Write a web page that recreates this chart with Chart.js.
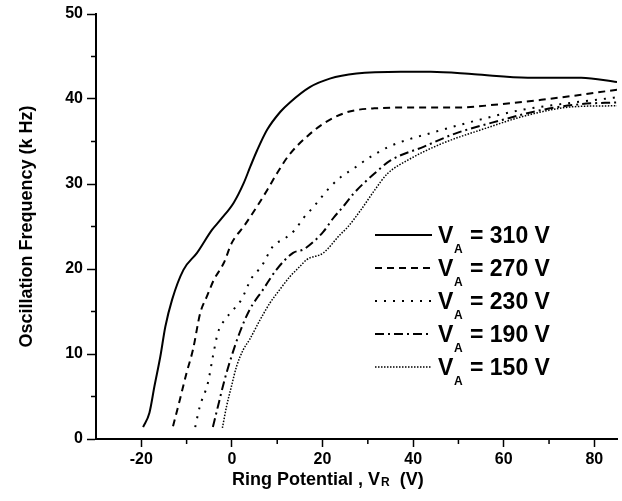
<!DOCTYPE html>
<html>
<head>
<meta charset="utf-8">
<script src="https://cdn.jsdelivr.net/npm/chart.js@4.4.1/dist/chart.umd.min.js"></script>
<style>
  body { margin: 0; background: #fff; }
  #wrap { width: 622px; height: 501px; }
</style>
</head>
<body>
<div id="wrap"><canvas id="myChart" width="622" height="501"></canvas></div>
<script>
// ring potential (V) and frequency (kHz)
const vr310 = [-19.6, -18.2, -17.1, -15.8, -14.7, -13.2, -10.7, -7.7, -4.4, -2.5, 0.4, 2.6, 4.1, 5.6, 7.8, 10.7, 12.8, 17.2, 21.6, 27.5, 37.3, 43.9, 53.5, 65.3, 77.1, 85];
const f310 = [1.4, 3.1, 6.2, 9.7, 13.2, 16.4, 19.9, 21.9, 24.6, 25.8, 27.8, 30.1, 32.1, 34.0, 36.4, 38.5, 39.6, 41.4, 42.4, 43.0, 43.2, 43.2, 42.9, 42.5, 42.5, 42.0];

const vr270 = [-13.0, -11.5, -10.0, -8.6, -7.0, -5.5, -4.0, -1.8, 0.0, 2.6, 5.6, 7.8, 10.0, 12.6, 16.6, 20.2, 24.6, 27.5, 31.4, 38.8, 49.8, 59.4, 68.3, 77.1, 85];
const f270 = [1.5, 4.6, 7.8, 10.5, 14.8, 16.8, 18.7, 20.7, 23.1, 25.0, 27.4, 29.3, 31.3, 33.4, 35.6, 37.1, 38.3, 38.7, 38.9, 39.0, 39.0, 39.4, 39.9, 40.5, 41.1];

const vr230 = [-8.1, -7.1, -5.3, -4.2, -3.1, -1.6, 0.3, 2.1, 4.3, 6.5, 9.1, 11.7, 13.9, 15.8, 18.0, 21.6, 24.0, 26.8, 30.6, 35.1, 44.6, 54.2, 63.8, 72.7, 85];
const f230 = [1.4, 3.8, 6.6, 9.7, 12.5, 14.0, 15.2, 16.4, 18.9, 20.3, 22.7, 23.6, 24.6, 26.0, 27.3, 29.6, 30.8, 31.8, 33.2, 34.5, 36.1, 37.5, 38.7, 39.4, 40.2];

const vr190 = [-4.2, -3.1, -1.6, -0.1, 1.7, 3.9, 6.9, 9.8, 13.5, 15.8, 18.0, 20.2, 22.4, 24.8, 26.9, 31.4, 35.1, 42.4, 49.1, 59.4, 68.3, 77.1, 85];
const f190 = [1.4, 3.8, 7.0, 9.7, 12.5, 15.2, 17.6, 19.9, 21.9, 22.3, 23.2, 24.4, 26.0, 27.5, 28.9, 31.2, 32.8, 34.4, 35.9, 37.5, 38.7, 39.4, 39.6];

const vr150 = [-2.1, -1.2, -0.1, 1.0, 2.5, 3.9, 6.2, 8.4, 10.6, 12.8, 15.0, 16.5, 20.2, 23.8, 25.5, 28.4, 31.4, 34.3, 38.8, 46.1, 55.7, 65.3, 75.6, 85];
const f150 = [1.3, 3.8, 6.2, 8.5, 10.5, 11.7, 14.0, 16.0, 17.6, 19.1, 20.3, 21.1, 21.9, 24.0, 24.9, 26.9, 29.2, 31.2, 32.8, 34.7, 36.5, 38.1, 39.1, 39.2];

const anodeLabels = ['310', '270', '230', '190', '150'];

const toPoints = (xs, ys) => xs.map((x, i) => ({ x: x, y: ys[i] }));

const FONT = "'Liberation Sans', Arial, sans-serif";
Chart.defaults.font.family = FONT;
Chart.defaults.color = '#000';

const series = [
    { pts: toPoints(vr310, f310), dash: [], width: 2 },
    { pts: toPoints(vr270, f270), dash: [7, 5], width: 2 },
    { pts: toPoints(vr230, f230), dash: [2, 7], width: 2 },
    { pts: toPoints(vr190, f190), dash: [9, 4, 2, 4], width: 2 },
    { pts: toPoints(vr150, f150), dash: [1.5, 1.5], width: 1.5 }
];

// minor ticks, x-axis title with subscript, and the in-plot legend
const extras = {
    id: 'extras',
    afterDraw(chart) {
        const c = chart.ctx;
        const xs = chart.scales.x, ys = chart.scales.y;
        c.save();
        c.strokeStyle = '#000';
        c.lineWidth = 1.5;
        c.beginPath();
        for (let v = -10; v < 85; v += 20) {
            const px = xs.getPixelForValue(v);
            c.moveTo(px, ys.bottom);
            c.lineTo(px, ys.bottom + 5);
        }
        for (let v = 5; v < 50; v += 10) {
            const py = ys.getPixelForValue(v);
            c.moveTo(xs.left, py);
            c.lineTo(xs.left - 5, py);
        }
        c.stroke();

        // x title
        c.fillStyle = '#000';
        c.textBaseline = 'alphabetic';
        c.textAlign = 'left';
        c.font = 'bold 18px ' + FONT;
        let tx = 232;
        const ty = 485;
        const a = 'Ring Potential , V';
        c.fillText(a, tx, ty);
        tx += c.measureText(a).width;
        c.font = 'bold 12px ' + FONT;
        c.fillText('R', tx + 1, ty + 1);
        tx += c.measureText('R').width + 1;
        c.font = 'bold 18px ' + FONT;
        c.fillText('  (V)', tx, ty);

        // legend
        chart.data.datasets.forEach((ds, i) => {
            const base = 243 + i * 33;
            c.save();
            c.setLineDash(ds.borderDash || []);
            c.lineWidth = ds.borderWidth;
            c.beginPath();
            c.moveTo(375, base - 8);
            c.lineTo(432, base - 8);
            c.stroke();
            c.restore();
            c.font = 'bold 23px ' + FONT;
            c.fillText('V', 438, base);
            c.font = 'bold 12px ' + FONT;
            c.fillText('A', 454, base + 10);
            c.font = 'bold 23px ' + FONT;
            c.fillText('= ' + anodeLabels[i] + ' V', 470, base);
        });
        c.restore();
    }
};

const ctx = document.getElementById('myChart');

new Chart(ctx, {
    type: 'line',
    data: {
        datasets: series.map((s, i) => ({
            label: 'VA = ' + anodeLabels[i] + ' V',
            data: s.pts,
            borderColor: '#000',
            borderWidth: s.width,
            borderDash: s.dash,
            pointRadius: 0,
            fill: false,
            cubicInterpolationMode: 'monotone'
        }))
    },
    options: {
        responsive: false,
        animation: false,
        layout: { padding: { top: 14, right: 5, left: 0, bottom: 0 } },
        plugins: {
            legend: { display: false },
            tooltip: { enabled: false }
        },
        scales: {
            x: {
                type: 'linear',
                min: -30,
                max: 85,
                afterFit: s => { s.height = 62; },
                border: { display: true, color: '#000', width: 2 },
                grid: {
                    drawOnChartArea: false,
                    tickLength: 8,
                    tickWidth: 1.5,
                    tickColor: c => (c.tick && c.tick.value % 20 === 0 ? '#000' : 'rgba(0,0,0,0)')
                },
                ticks: {
                    stepSize: 20,
                    includeBounds: false,
                    autoSkip: false,
                    maxRotation: 0,
                    padding: 3,
                    color: '#000',
                    font: { size: 16, weight: 'bold' }
                }
            },
            y: {
                min: 0,
                max: 50,
                afterFit: s => { s.width = 96; },
                border: { display: true, color: '#000', width: 2 },
                grid: {
                    drawOnChartArea: false,
                    tickLength: 9,
                    tickWidth: 1.5,
                    tickColor: '#000'
                },
                ticks: {
                    stepSize: 10,
                    autoSkip: false,
                    padding: 4,
                    color: '#000',
                    font: { size: 16, weight: 'bold' }
                },
                title: {
                    display: true,
                    text: 'Oscillation Frequency (k Hz)',
                    color: '#000',
                    font: { size: 18, weight: 'bold' },
                    padding: { top: 16, bottom: 0 }
                }
            }
        }
    },
    plugins: [extras]
});
</script>
</body>
</html>
